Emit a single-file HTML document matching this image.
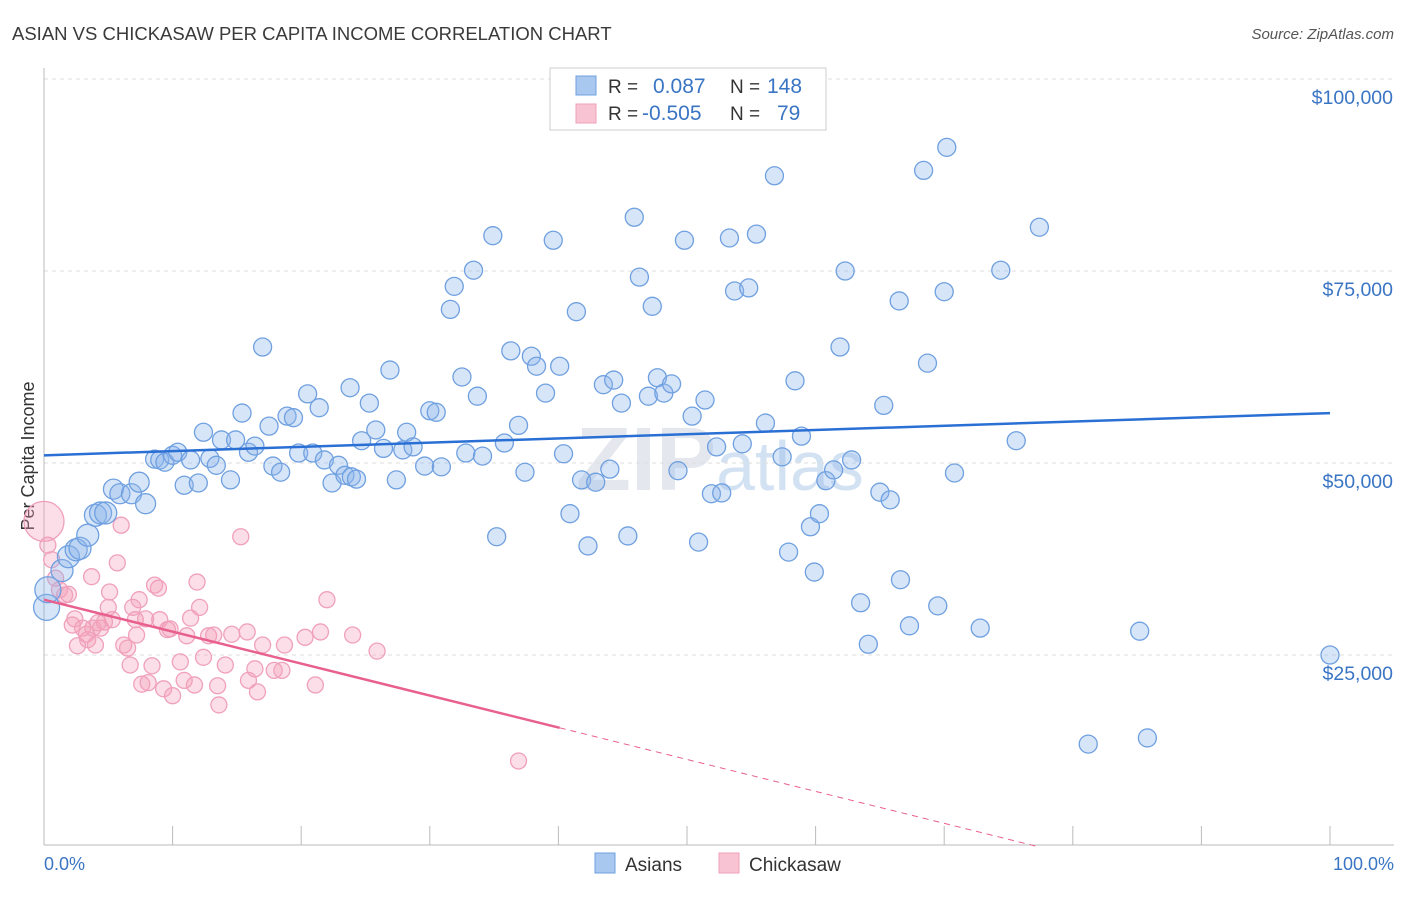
<!DOCTYPE html>
<html><head><meta charset="utf-8"><style>
body{margin:0;background:#fff;font-family:"Liberation Sans",sans-serif;}
svg text{font-family:"Liberation Sans",sans-serif;}
</style></head><body>
<svg id="chart" width="1406" height="892" xmlns="http://www.w3.org/2000/svg">
<text x="12" y="40" font-size="18.5" fill="#3a3a3a">ASIAN VS CHICKASAW PER CAPITA INCOME CORRELATION CHART</text>
<text x="1394" y="39" font-size="15" fill="#555" font-style="italic" text-anchor="end">Source: ZipAtlas.com</text>
<text x="34" y="456" font-size="18" fill="#333" text-anchor="middle" transform="rotate(-90 34 456)">Per Capita Income</text>
<text x="720" y="490" font-size="90" fill="#e4e8ee" text-anchor="middle" font-weight="bold">ZIP<tspan font-weight="normal" font-size="70" fill="#d3e2f3">atlas</tspan></text>
<g id="grid"></g><g id="marks"></g><g id="trends"></g>
<g>
<rect x="550" y="68" width="276" height="62" fill="#fff" stroke="#ccc"/>
<rect x="576" y="76" width="20" height="19" fill="#a9c8f0" stroke="#6fa0e0"/>
<rect x="576" y="104" width="20" height="19" fill="#f8c3d3" stroke="#f0a0bb"/>
<text x="608" y="93" font-size="19" fill="#333">R = </text><text x="653" y="93" font-size="21" fill="#3a75c4">0.087</text>
<text x="730" y="93" font-size="19" fill="#333">N = </text><text x="767" y="93" font-size="21" fill="#3a75c4">148</text>
<text x="608" y="120" font-size="19" fill="#333">R = </text><text x="642" y="120" font-size="21" fill="#3a75c4">-0.505</text>
<text x="730" y="120" font-size="19" fill="#333">N = </text><text x="777" y="120" font-size="21" fill="#3a75c4">79</text>
</g>
<g>
<rect x="595" y="853" width="20" height="20" fill="#a9c8f0" stroke="#6fa0e0"/>
<text x="625" y="871" font-size="19" fill="#333">Asians</text>
<rect x="719" y="853" width="20" height="20" fill="#f8c3d3" stroke="#f0a0bb"/>
<text x="749" y="871" font-size="19" fill="#333">Chickasaw</text>
</g>
<text x="44" y="870" font-size="18" fill="#3a75c4">0.0%</text>
<text x="1394" y="870" font-size="18" fill="#3a75c4" text-anchor="end">100.0%</text>
</svg>
<script>
const yTicks=[25000,50000,75000,100000];
const yTickLabels=["$25,000","$50,000","$75,000","$100,000"];
const asianX=[0.2,0.3,1.4,1.9,2.5,2.8,3.4,4.0,4.4,4.8,5.4,5.9,6.8,7.4,7.9,8.6,9.0,9.4,10.0,10.4,10.9,11.4,12.0,12.4,12.9,13.4,13.8,14.5,14.9,15.4,15.9,16.4,17.0,17.5,17.8,18.4,18.9,19.4,19.8,20.5,20.9,21.4,21.8,22.4,22.9,23.4,23.9,24.3,24.7,23.8,25.3,25.8,26.4,26.9,27.4,27.9,28.2,28.7,29.6,30.0,30.5,30.9,31.6,31.9,32.5,32.8,33.4,33.7,34.1,34.9,35.2,35.8,36.3,36.9,37.4,37.9,38.3,39.0,39.6,40.1,40.4,40.9,41.4,41.8,42.3,42.9,43.5,44.0,44.3,44.9,45.4,45.9,46.3,47.0,47.3,47.7,48.2,48.8,49.3,49.8,50.4,50.9,51.4,51.9,52.7,52.3,53.3,53.7,54.3,54.8,55.4,56.1,56.8,57.4,57.9,58.4,58.9,59.6,59.9,60.3,60.8,61.4,61.9,62.3,62.8,63.5,64.1,65.0,65.3,65.8,66.5,66.6,67.3,68.4,68.7,69.5,70.0,70.2,70.8,72.8,74.4,75.6,77.4,81.2,85.2,85.8,100.0];
const asianY=[31.2,33.5,36.0,37.8,38.7,38.9,40.6,43.2,43.5,43.5,46.6,46.0,46.0,47.5,44.7,50.5,50.4,50.1,51.0,51.4,47.1,50.4,47.4,54.0,50.6,49.7,53.0,47.8,53.0,56.5,51.4,52.2,65.1,54.8,49.6,48.8,56.1,55.9,51.3,59.0,51.3,57.2,50.4,47.4,49.7,48.4,48.2,47.9,52.9,59.8,57.8,54.3,51.9,62.1,47.8,51.7,54.0,52.1,49.6,56.8,56.6,49.5,70.0,73.0,61.2,51.3,75.1,58.7,50.9,79.6,40.4,52.6,64.6,54.9,48.8,63.9,62.6,59.1,79.0,62.6,51.2,43.4,69.7,47.8,39.2,47.5,60.2,49.2,60.8,57.8,40.5,82.0,74.2,58.7,70.4,61.1,59.1,60.3,49.0,79.0,56.1,39.7,58.2,46.0,46.1,52.1,79.3,72.4,52.5,72.8,79.8,55.2,87.4,50.8,38.4,60.7,53.5,41.7,35.8,43.4,47.7,49.1,65.1,75.0,50.4,31.8,26.4,46.2,57.5,45.2,71.1,34.8,28.8,88.1,63.0,31.4,72.3,91.1,48.7,28.5,75.1,52.9,80.7,13.4,28.1,14.2,25.0];
const chickX=[0.0,0.3,0.6,0.9,1.2,1.6,1.9,2.2,2.4,2.6,3.0,3.3,3.4,3.7,3.8,4.0,4.2,4.4,4.7,5.0,5.1,5.3,5.7,6.0,6.2,6.5,6.7,6.9,7.1,7.2,7.4,7.6,7.9,8.1,8.4,8.6,8.9,9.0,9.3,9.6,9.8,10.0,10.6,10.9,11.1,11.4,11.7,11.9,12.1,12.4,12.8,13.2,13.5,13.6,14.1,14.6,15.3,15.8,15.9,16.4,16.6,17.0,17.9,18.7,18.5,20.3,21.1,21.5,22.0,24.0,25.9,36.9];
const chickY=[42.4,39.3,37.4,35.0,33.5,32.8,32.9,28.9,29.7,26.2,28.5,27.7,27.0,35.2,28.5,26.3,29.2,28.5,29.3,31.2,33.2,29.6,37.0,41.9,26.3,25.9,23.7,31.2,29.6,27.6,32.2,21.2,29.7,21.4,23.6,34.1,33.7,29.6,20.6,28.3,28.4,19.7,24.1,21.7,27.5,29.8,21.1,34.5,31.2,24.7,27.5,27.6,21.0,18.5,23.7,27.7,40.4,28.0,21.7,23.2,20.2,26.3,23.0,26.3,23.0,27.3,21.1,28.0,32.2,27.6,25.5,11.2];
const asianTrend=[51.0,56.5];
const chickTrend=[32.2,-0.416];
const NS="http://www.w3.org/2000/svg";
const X0=44,X1=1330,Y0=847,PX_PER_K=192/25;
function xs(p){return X0+(X1-X0)*p/100;}
function ys(k){return Y0-k*PX_PER_K;}
function mk(t,a,parent){const e=document.createElementNS(NS,t);for(const k in a)e.setAttribute(k,a[k]);parent.appendChild(e);return e;}
const grid=document.getElementById('grid');
const gl=mk('line',{x1:44,y1:79,x2:1394,y2:79,stroke:'#ddd','stroke-dasharray':'4,4'},grid);


yTicks.forEach((v,i)=>{
 const y=ys(v/1000);
 const l=mk('line',{x1:44,y1:y,x2:1394,y2:y,stroke:'#ddd','stroke-dasharray':'4,4'},grid);
 
 
 const t=mk('text',{x:1393,y:y+25,'font-size':19.5,fill:'#3a75c4','text-anchor':'end'},grid);
 t.textContent=yTickLabels[i];
 
 
});
const ax=mk('line',{x1:44,y1:68,x2:44,y2:845,stroke:'#bbb'},grid);


const bx=mk('line',{x1:44,y1:845,x2:1394,y2:845,stroke:'#bbb'},grid);


for(let i=0;i<=10;i++){
 const tk=mk('line',{x1:xs(i*10),y1:826,x2:xs(i*10),y2:845,stroke:'#bbb'},grid);
 
 
}
const marks=document.getElementById('marks');
chickX.forEach((x,i)=>{
 const r=i===0?20:8;
 const c=mk('circle',{cx:xs(x),cy:ys(chickY[i]),r:r,fill:'rgba(244,160,187,0.35)',stroke:'#f0a0bb','stroke-width':1.3},marks);
 
 
});
asianX.forEach((x,i)=>{
 const r=x<1?13:(x<5?11:(x<8?10:9));
 const c=mk('circle',{cx:xs(x),cy:ys(asianY[i]),r:r,fill:'rgba(140,180,235,0.35)',stroke:'#6fa0e0','stroke-width':1.3},marks);
 
 
});
const tr=document.getElementById('trends');
const a=mk('line',{x1:xs(0),y1:ys(asianTrend[0]),x2:xs(100),y2:ys(asianTrend[1]),stroke:'#2a6fd4','stroke-width':2.5},tr);


const cEnd=40.1, cZero=-chickTrend[0]/chickTrend[1];
const p1=mk('line',{x1:xs(0),y1:ys(chickTrend[0]),x2:xs(cEnd),y2:ys(chickTrend[0]+chickTrend[1]*cEnd),stroke:'#e8608e','stroke-width':2.5},tr);


const p2=mk('line',{x1:xs(cEnd),y1:ys(chickTrend[0]+chickTrend[1]*cEnd),x2:xs(cZero),y2:ys(0),stroke:'#e8608e','stroke-width':1,'stroke-dasharray':'6,5'},tr);


</script>
</body></html>
